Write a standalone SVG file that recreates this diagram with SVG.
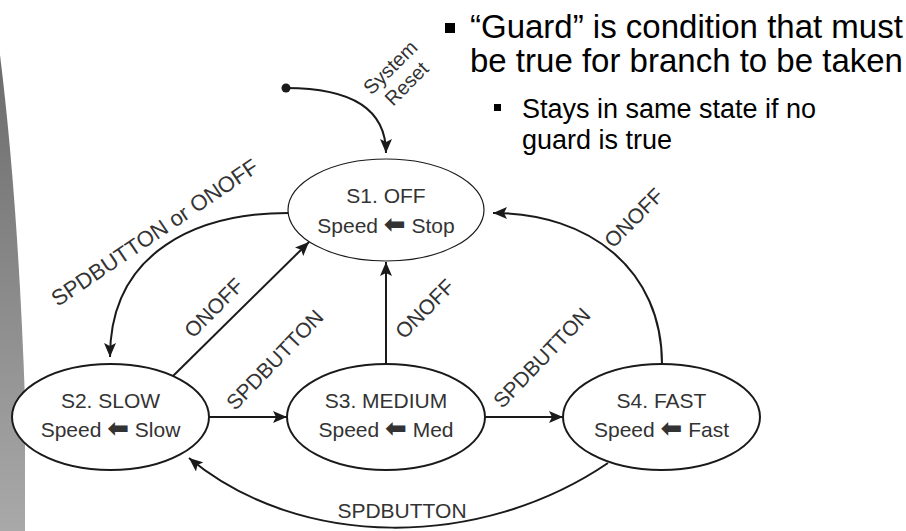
<svg xmlns="http://www.w3.org/2000/svg" width="906" height="531" viewBox="0 0 906 531">
<defs>
<linearGradient id="band" x1="0" y1="0" x2="0" y2="1">
<stop offset="0" stop-color="#6c6c6c"/>
<stop offset="1" stop-color="#a9a9a9"/>
</linearGradient>
<marker id="ah" markerWidth="15" markerHeight="12" refX="14" refY="6" orient="auto" markerUnits="userSpaceOnUse">
<path d="M0,0 L14,6 L0,12 L3,6 Z" fill="#1a1a1a"/>
</marker>
</defs>
<style>
.edge{fill:none;stroke:#1a1a1a;stroke-width:2;marker-end:url(#ah)}
.node ellipse{fill:#fff;stroke:#1a1a1a;stroke-width:2}
.nt{font-family:"Liberation Sans",Arial,sans-serif;font-size:21px;fill:#333;text-anchor:middle}
.lbl{font-family:"Liberation Sans",Arial,sans-serif;font-size:21px;fill:#333;text-anchor:middle}
.arr{font-family:"DejaVu Sans",sans-serif;font-weight:bold;font-size:26px}
.bul{font-family:"Liberation Sans",Arial,sans-serif;fill:#000}
</style>
<path d="M0,55 Q18,200 25,400 L25,531 L0,531 Z" fill="url(#band)"/>

<g id="bullets">
<rect x="445" y="23" width="10" height="10" fill="#000"/>
<text class="bul" x="470" y="38" font-size="33">“Guard” is condition that must</text>
<text class="bul" x="470" y="72" font-size="33">be true for branch to be taken</text>
<rect x="494" y="104" width="7" height="7" fill="#000"/>
<text class="bul" x="522" y="118" font-size="27">Stays in same state if no</text>
<text class="bul" x="522" y="149" font-size="27">guard is true</text>
</g>

<g id="connectors">
<circle cx="286" cy="88" r="4.5" fill="#1a1a1a"/>
<path class="edge" d="M286,88 C345,88 386,105 386,153"/>
<path class="edge" d="M288,213 C200,213 110,250 110,357"/>
<path class="edge" d="M173,376 L309,242"/>
<path class="edge" d="M209,417 L287,417"/>
<path class="edge" d="M386,364 L386,262"/>
<path class="edge" d="M485,417 L563,417"/>
<path class="edge" d="M662,364 C662,270 590,213 493,213"/>
<path class="edge" d="M608,463 C480,550 300,550 189,458"/>
<g class="lbl">
<text transform="translate(398,75) rotate(-45)" font-size="20"><tspan x="0" y="-4">System</tspan><tspan x="0" y="19">Reset</tspan></text>
<text transform="translate(155,233) rotate(-34)" y="7" font-size="22">SPDBUTTON or ONOFF</text>
<text transform="translate(214,308) rotate(-45)" y="7">ONOFF</text>
<text transform="translate(275,360) rotate(-46)" y="7">SPDBUTTON</text>
<text transform="translate(425,309) rotate(-45)" y="7">ONOFF</text>
<text transform="translate(542,358) rotate(-46)" y="7">SPDBUTTON</text>
<text transform="translate(634,218) rotate(-45)" y="7">ONOFF</text>
<text x="402" y="518">SPDBUTTON</text>
</g>
</g>

<g id="S1" class="node">
<ellipse cx="386" cy="210" rx="98" ry="51" style="stroke-width:1.2"/>
<text class="nt" x="386" y="203">S1. OFF</text>
<text class="nt" x="386" y="233">Speed <tspan class="arr">⬅</tspan> Stop</text>
</g>
<g id="S2" class="node">
<ellipse cx="110.5" cy="417" rx="98.5" ry="53"/>
<text class="nt" x="110.5" y="408">S2. SLOW</text>
<text class="nt" x="110.5" y="437">Speed <tspan class="arr">⬅</tspan> Slow</text>
</g>
<g id="S3" class="node">
<ellipse cx="386" cy="417" rx="99" ry="53"/>
<text class="nt" x="386" y="408">S3. MEDIUM</text>
<text class="nt" x="386" y="437">Speed <tspan class="arr">⬅</tspan> Med</text>
</g>
<g id="S4" class="node">
<ellipse cx="661.5" cy="417" rx="98.5" ry="53"/>
<text class="nt" x="661.5" y="408">S4. FAST</text>
<text class="nt" x="661.5" y="437">Speed <tspan class="arr">⬅</tspan> Fast</text>
</g>
</svg>
